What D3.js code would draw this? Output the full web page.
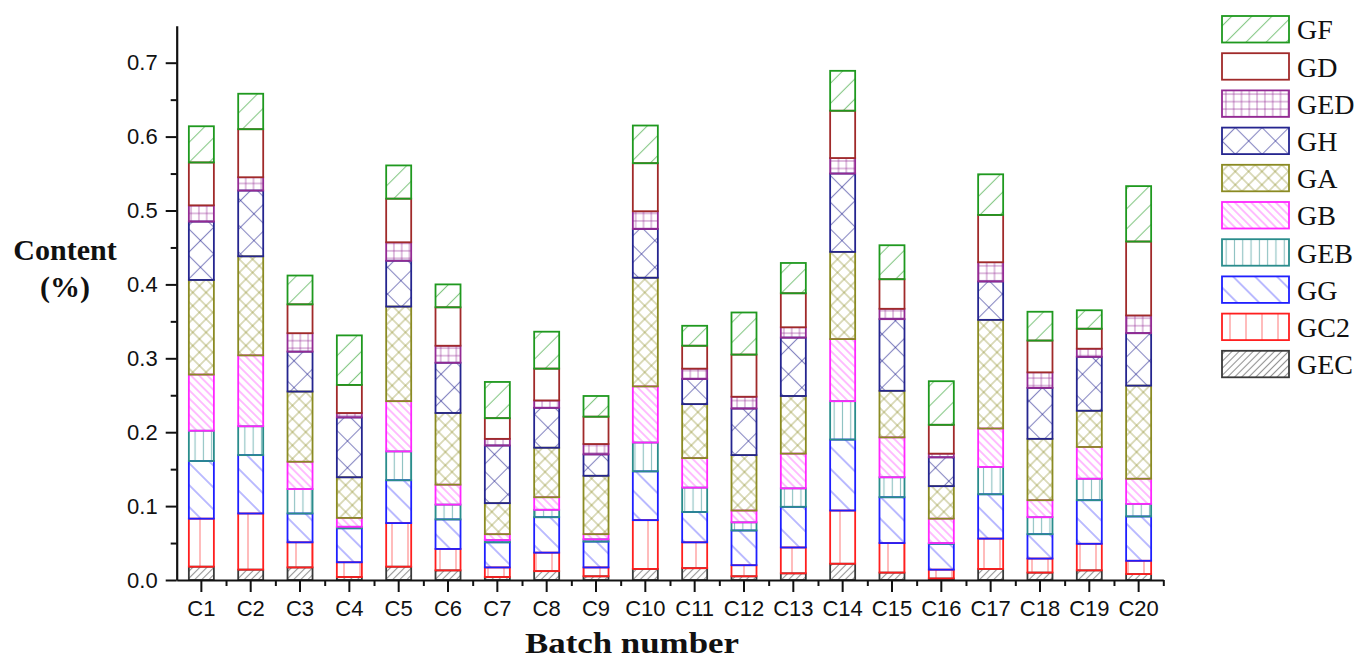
<!DOCTYPE html>
<html>
<head>
<meta charset="utf-8">
<script src="https://cdn.jsdelivr.net/npm/d3@7"></script>
<style>
    body { margin: 0; background: #fff; }
    svg { display: block; }
</style>
</head>
<body>
<svg id="chart" width="1360" height="661"></svg>
<script>
// Data: content (%) of each compound per batch
const batches = ['C1', 'C2', 'C3', 'C4', 'C5', 'C6', 'C7', 'C8', 'C9', 'C10',
                 'C11', 'C12', 'C13', 'C14', 'C15', 'C16', 'C17', 'C18', 'C19', 'C20'];
const seriesKeys = ['GEC', 'GC2', 'GG', 'GEB', 'GB', 'GA', 'GH', 'GED', 'GD', 'GF'];

const GEC = [0.018, 0.014, 0.017, 0.004, 0.018, 0.013, 0.004, 0.012, 0.005, 0.015,
             0.016, 0.005, 0.009, 0.022, 0.010, 0.002, 0.015, 0.010, 0.013, 0.008];
const GC2 = [0.065, 0.076, 0.034, 0.020, 0.059, 0.029, 0.013, 0.025, 0.012, 0.066,
             0.035, 0.015, 0.035, 0.072, 0.040, 0.012, 0.041, 0.019, 0.036, 0.018];
const GG  = [0.078, 0.079, 0.039, 0.046, 0.058, 0.040, 0.034, 0.048, 0.035, 0.066,
             0.041, 0.047, 0.055, 0.096, 0.062, 0.035, 0.060, 0.033, 0.059, 0.060];
const GEB = [0.041, 0.039, 0.033, 0.002, 0.039, 0.020, 0.003, 0.010, 0.003, 0.039,
             0.033, 0.011, 0.025, 0.052, 0.027, 0.001, 0.037, 0.023, 0.029, 0.017];
const GB  = [0.076, 0.096, 0.037, 0.012, 0.068, 0.027, 0.008, 0.017, 0.007, 0.076,
             0.040, 0.016, 0.047, 0.084, 0.054, 0.033, 0.052, 0.023, 0.043, 0.034];
const GA  = [0.128, 0.134, 0.095, 0.055, 0.128, 0.097, 0.042, 0.067, 0.079, 0.147,
             0.073, 0.075, 0.078, 0.118, 0.063, 0.044, 0.147, 0.083, 0.049, 0.126];
const GH  = [0.079, 0.089, 0.054, 0.081, 0.062, 0.068, 0.078, 0.054, 0.029, 0.066,
             0.034, 0.063, 0.079, 0.106, 0.097, 0.039, 0.052, 0.069, 0.073, 0.071];
const GED = [0.022, 0.018, 0.025, 0.006, 0.025, 0.023, 0.009, 0.010, 0.014, 0.024,
             0.014, 0.016, 0.014, 0.021, 0.014, 0.005, 0.026, 0.021, 0.011, 0.024];
const GD  = [0.058, 0.065, 0.039, 0.038, 0.059, 0.052, 0.028, 0.043, 0.037, 0.065,
             0.031, 0.057, 0.046, 0.064, 0.040, 0.039, 0.064, 0.043, 0.027, 0.100];
const GF  = [0.049, 0.048, 0.039, 0.067, 0.045, 0.031, 0.049, 0.050, 0.028, 0.051,
             0.027, 0.057, 0.041, 0.054, 0.046, 0.059, 0.055, 0.039, 0.025, 0.075];

const seriesValues = { GEC, GC2, GG, GEB, GB, GA, GH, GED, GD, GF };
const yTicks = [0, 0.1, 0.2, 0.3, 0.4, 0.5, 0.6, 0.7];
const yMinorTicks = [0.05, 0.15, 0.25, 0.35, 0.45, 0.55, 0.65];

// Style per series: border colour and hatch type (Origin-like)
const styles = {
    GEC: { color: '#3a3a3a', hatch: 'slash', gap: 5 },
    GC2: { color: '#ff1f1f', hatch: 'vert', gap: 16 },
    GG:  { color: '#1f1fff', hatch: 'back', gap: 15.5 },
    GEB: { color: '#2a8c8c', hatch: 'vert', gap: 8.3 },
    GB:  { color: '#ff26ff', hatch: 'back', gap: 5.8 },
    GA:  { color: '#8a8a22', hatch: 'cross', gap: 9.4 },
    GH:  { color: '#25258f', hatch: 'cross', gap: 18.9 },
    GED: { color: '#932a93', hatch: 'grid', gap: 7.8 },
    GD:  { color: '#a02a2a', hatch: 'none', gap: 0 },
    GF:  { color: '#1f991f', hatch: 'slash', gap: 14.2 }
};

// Layout
const axisLeftX = 176.7;
const axisRightX = 1163.3;
const baseY = 580;
const topY = 25.75;

const svg = d3.select('#chart');
svg.append('rect').attr('width', 1360).attr('height', 661).attr('fill', '#fff');

// Hatch patterns
const defs = svg.append('defs');
seriesKeys.forEach(key => {
    const st = styles[key];
    const g = st.gap;
    const pat = defs.append('pattern')
        .attr('id', 'pat-' + key)
        .attr('patternUnits', 'userSpaceOnUse')
        .attr('width', g || 10)
        .attr('height', g || 10);
    const line = (x1, y1, x2, y2) => pat.append('line')
        .attr('x1', x1).attr('y1', y1).attr('x2', x2).attr('y2', y2)
        .attr('stroke', st.color)
        .attr('stroke-opacity', 0.55)
        .attr('stroke-width', 1.1);
    if (st.hatch === 'slash' || st.hatch === 'back') {
        pat.attr('patternTransform', st.hatch === 'slash' ? 'rotate(45)' : 'rotate(-45)');
        line(g / 2, 0, g / 2, g);
    } else if (st.hatch === 'vert') {
        line(g / 2, 0, g / 2, g);
    } else if (st.hatch === 'cross') {
        pat.attr('patternTransform', 'rotate(45)');
        line(g / 2, 0, g / 2, g);
        line(0, g / 2, g, g / 2);
    } else if (st.hatch === 'grid') {
        pat.attr('height', g * 0.96);
        line(g / 2, 0, g / 2, g);
        line(0, g * 0.48, g, g * 0.48);
    }
});

// Scales
const x = d3.scaleBand()
    .domain(batches)
    .range([axisLeftX, axisRightX])
    .paddingInner(0.493)
    .paddingOuter(0.2465);

const y = d3.scaleLinear()
    .domain([0, 0.75])
    .range([baseY, topY]);

// Stack the series
const rows = batches.map((b, i) => {
    const row = { batch: b };
    seriesKeys.forEach(k => { row[k] = seriesValues[k][i]; });
    return row;
});
const stacked = d3.stack().keys(seriesKeys)(rows);

const barGroups = svg.append('g')
    .selectAll('g')
    .data(stacked)
    .join('g')
    .attr('class', d => 'series-' + d.key);

barGroups.each(function (layer) {
    const st = styles[layer.key];
    d3.select(this).selectAll('rect')
        .data(layer)
        .join('rect')
        .attr('x', d => x(d.data.batch))
        .attr('y', d => y(d[1]))
        .attr('width', x.bandwidth())
        .attr('height', d => Math.max(0, y(d[0]) - y(d[1])))
        .attr('fill', st.hatch === 'none' ? '#fff' : 'url(#pat-' + layer.key + ')')
        .attr('stroke', st.color)
        .attr('stroke-width', 1.8);
});

// Axes
const sansFont = "'Liberation Sans', Arial, sans-serif";
const serifFont = "'Liberation Serif', 'Times New Roman', serif";

svg.append('g')
    .attr('transform', `translate(0,${baseY})`)
    .call(d3.axisBottom(x).tickSize(12).tickSizeOuter(0).tickPadding(8));

const minorX = d3.scaleLinear().domain([0, batches.length]).range([axisLeftX, axisRightX]);
svg.append('g')
    .attr('transform', `translate(0,${baseY})`)
    .call(d3.axisBottom(minorX).tickValues(d3.range(1, batches.length + 1)).tickSize(6).tickFormat(''))
    .call(g => g.select('.domain').remove());

svg.append('g')
    .attr('transform', `translate(${axisLeftX},0)`)
    .call(d3.axisLeft(y).tickValues(yTicks).tickFormat(d3.format('.1f'))
        .tickSize(11).tickSizeOuter(0).tickPadding(8));

svg.append('g')
    .attr('transform', `translate(${axisLeftX},0)`)
    .call(d3.axisLeft(y).tickValues(yMinorTicks).tickSize(6).tickFormat(''))
    .call(g => g.select('.domain').remove());

svg.selectAll('.domain').attr('stroke', '#111').attr('stroke-width', 2.2);
svg.selectAll('.tick line').attr('stroke', '#111').attr('stroke-width', 2);
svg.selectAll('.tick text')
    .attr('fill', '#111')
    .style('font-family', sansFont)
    .style('font-size', '22px');

// Axis titles
svg.append('text')
    .attr('x', 632)
    .attr('y', 653)
    .attr('text-anchor', 'middle')
    .attr('textLength', 214)
    .attr('lengthAdjust', 'spacingAndGlyphs')
    .style('font-family', serifFont)
    .style('font-weight', 'bold')
    .style('font-size', '29px')
    .attr('fill', '#111')
    .text('Batch number');

const yTitle = svg.append('text')
    .attr('text-anchor', 'middle')
    .style('font-family', serifFont)
    .style('font-weight', 'bold')
    .style('font-size', '30px')
    .attr('fill', '#111');
yTitle.append('tspan').attr('x', 65).attr('y', 260).text('Content');
yTitle.append('tspan').attr('x', 65).attr('y', 297).text('(%)');

// Legend (top entry is the top of the stack)
const legendKeys = seriesKeys.slice().reverse();
const legend = svg.append('g')
    .selectAll('g')
    .data(legendKeys)
    .join('g')
    .attr('transform', (d, i) => `translate(1222,${16 + i * 37.2})`);

legend.append('rect')
    .attr('width', 67)
    .attr('height', 26.5)
    .attr('fill', d => styles[d].hatch === 'none' ? '#fff' : 'url(#pat-' + d + ')')
    .attr('stroke', d => styles[d].color)
    .attr('stroke-width', 1.8);

legend.append('text')
    .attr('x', 75)
    .attr('y', 13.5)
    .attr('dy', '0.35em')
    .style('font-family', serifFont)
    .style('font-size', '28px')
    .attr('fill', '#111')
    .text(d => d);
</script>
</body>
</html>
